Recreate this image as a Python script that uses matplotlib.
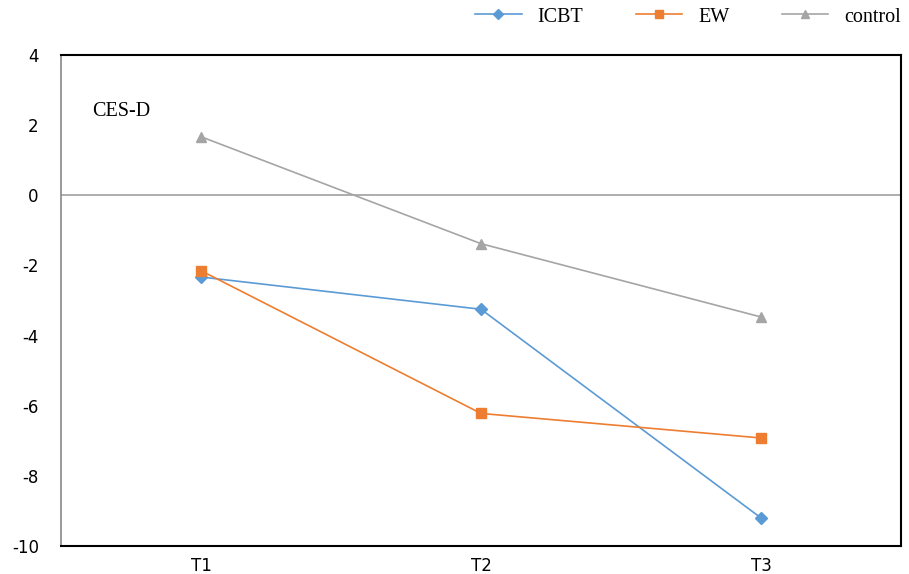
import matplotlib
matplotlib.use("Agg")
import matplotlib.pyplot as plt
from matplotlib.lines import Line2D

categories = ["T1", "T2", "T3"]
icbt = [-2.33, -3.25, -9.2]
ew = [-2.15, -6.22, -6.92]
control = [1.67, -1.38, -3.47]
yticks = [4, 2, 0, -2, -4, -6, -8, -10]

fig = plt.figure(figsize=(9.09, 5.74), dpi=100)
ax = fig.add_axes([61/909, 1-546/574, (901-61)/909, (546-55)/574])

x = list(range(len(categories)))
c_icbt = "#5B9BD5"
c_ew = "#ED7D31"
c_ctl = "#A5A5A5"
ax.axhline(0, color="#A0A0A0", lw=1.2, zorder=1)
ax.plot(x, icbt, color=c_icbt, lw=1.2, marker="D", ms=6, label="ICBT", zorder=3)
ax.plot(x, ew, color=c_ew, lw=1.2, marker="s", ms=7, label="EW", zorder=3)
ax.plot(x, control, color=c_ctl, lw=1.2, marker="^", ms=7, label="control", zorder=3)

ax.set_xlim(-0.5, 2.5)
ax.set_ylim(-10, 4)
ax.set_yticks(yticks)
ax.set_yticklabels([str(t) for t in yticks])
ax.set_xticks(x)
ax.set_xticklabels(categories)
ax.tick_params(length=0, labelsize=12, pad=8)
ax.tick_params(axis="y", pad=16)
for s in ["top", "bottom", "right"]:
    ax.spines[s].set_color("black")
    ax.spines[s].set_linewidth(1.5)
ax.spines["left"].set_color("#888888")
ax.spines["left"].set_linewidth(1.2)

ax.text(31/840, 0.885, "CES-D", transform=ax.transAxes, fontsize=14.5,
        family="Liberation Serif", va="center", ha="left")

handles = [Line2D([], [], color=c_icbt, marker="D", ms=5, lw=1.2),
           Line2D([], [], color=c_ew, marker="s", ms=6, lw=1.2),
           Line2D([], [], color=c_ctl, marker="^", ms=6, lw=1.2)]
fig.legend(handles, ["ICBT", "EW", "control"], loc="center right",
           bbox_to_anchor=(1.0, 1-17/574), ncol=3, frameon=False,
           prop={"family": "Liberation Serif", "size": 14.5},
           handlelength=2.3, columnspacing=2.6, handletextpad=0.8,
           borderaxespad=0.0)

fig.savefig("out.png", dpi=100)
